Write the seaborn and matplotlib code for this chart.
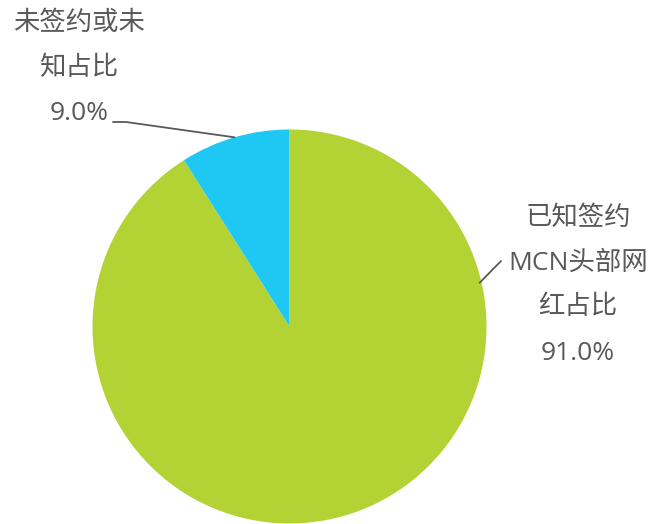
import numpy as np
import seaborn as sns
import matplotlib.pyplot as plt

# 数据
categories = ["已知签约\nMCN头部网\n红占比", "未签约或未\n知占比"]
shares = [91.0, 9.0]
colors = ["#B3D334", "#1FC8F2"]

sns.set_theme(style="white")
plt.rcParams['font.family'] = ['Open Sans', 'Noto Sans CJK SC', 'DejaVu Sans']

W, H = 652, 524
fig = plt.figure(figsize=(W / 100, H / 100), dpi=100)
ax = fig.add_axes([0, 0, 1, 1])

cx, cy, r = 289.5, H - 326.5, 197
ax.pie(shares, colors=colors, startangle=90, counterclock=False,
       radius=r, center=(cx, cy), frame=True,
       wedgeprops={'linewidth': 0})
ax.set_xlim(0, W)
ax.set_ylim(0, H)
ax.set_aspect('equal')
ax.axis('off')

txt_color = '#595959'
line_h = 45

# 标签: 文本中心 x, 首行 y (从上往下的像素)
label_pos = [(578, 218), (79, 23)]
for cat, val, (lx, ly) in zip(categories, shares, label_pos):
    lines = cat.split('\n') + [f"{val:.1f}%"]
    for i, s in enumerate(lines):
        ax.text(lx, H - (ly + i * line_h), s, ha='center', va='center',
                fontsize=19, color=txt_color)

# 引导线
a_blue = np.deg2rad(90 + shares[1] / 100 * 360 / 2)
bx, by = cx + r * np.cos(a_blue), cy + r * np.sin(a_blue)
ax.plot([113, 126, bx], [H - 122, H - 122, by], color=txt_color, lw=1.3)

a_green = np.deg2rad(12.8)
gx, gy = cx + r * np.cos(a_green) - 2, cy + r * np.sin(a_green)
ax.plot([gx, 501], [gy, H - 261], color=txt_color, lw=1.3)

fig.savefig('out.png', dpi=100)
